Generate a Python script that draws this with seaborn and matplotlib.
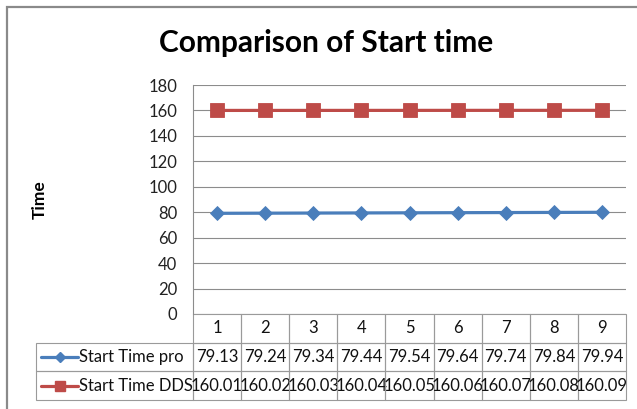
import matplotlib
matplotlib.use("Agg")
import matplotlib.pyplot as plt
import seaborn as sns
import pandas as pd
from matplotlib.table import Table
from matplotlib.lines import Line2D
from matplotlib.patches import Rectangle

# ---- data ----
categories = [1, 2, 3, 4, 5, 6, 7, 8, 9]
start_time_pro = [79.13, 79.24, 79.34, 79.44, 79.54, 79.64, 79.74, 79.84, 79.94]
start_time_dds = [160.01, 160.02, 160.03, 160.04, 160.05, 160.06, 160.07, 160.08, 160.09]
series_names = ["Start Time pro", "Start Time DDS"]
y_ticks = [0, 20, 40, 60, 80, 100, 120, 140, 160, 180]
title = "Comparison of Start time"
y_label = "Time"

sns.set_style("white")
plt.rcParams["font.family"] = ["Lato", "DejaVu Sans"]

W, H = 637, 409
fig = plt.figure(figsize=(W / 100, H / 100), dpi=100)

def fx(px):
    return px / W

def fy(py):
    return 1 - py / H

# plot area
L, R, T, B = 193, 626, 85, 314
ax = fig.add_axes([fx(L), fy(B), (R - L) / W, (B - T) / H])

df = pd.DataFrame({
    "x": categories * 2,
    "y": start_time_pro + start_time_dds,
    "series": [series_names[0]] * len(categories) + [series_names[1]] * len(categories),
})
blue = "#4A7EBB"
red = "#BE4B48"
palette = {series_names[0]: blue, series_names[1]: red}
markers = {series_names[0]: "D", series_names[1]: "s"}

sns.lineplot(data=df, x="x", y="y", hue="series", style="series",
             palette=palette, markers=markers, dashes=False,
             linewidth=2.3, markersize=8, markeredgewidth=0.6,
             legend=False, ax=ax, zorder=3)
for line in ax.get_lines():
    if line.get_marker() == "D":
        line.set_markersize(6.8)
    elif line.get_marker() == "s":
        line.set_markersize(9.4)
    line.set_markeredgecolor(line.get_color())
    line.set_clip_on(False)

ax.set_xlim(0.5, 9.5)
ax.set_ylim(0, 180)
ax.set_yticks(y_ticks)
ax.set_xticks([])
ax.set_xlabel("")
ax.set_ylabel("")
grid_c = "#8C8C8C"
ax.yaxis.grid(True, color=grid_c, linewidth=0.8)
ax.xaxis.grid(False)
for s in ["top", "right", "bottom"]:
    ax.spines[s].set_visible(False)
ax.spines["left"].set_color(grid_c)
ax.spines["left"].set_linewidth(0.8)
ax.tick_params(axis="y", length=0, pad=11.5, labelsize=12, labelcolor="#222222")
ax.set_axisbelow(True)

# ---- data table below plot ----
tbl_left, tbl_right, tbl_top, tbl_bot = 36, 626, 314, 400
ax_w, ax_h = R - L, B - T
bbox = [(tbl_left - L) / ax_w, -(tbl_bot - B) / ax_h,
        (tbl_right - tbl_left) / ax_w, (tbl_bot - tbl_top) / ax_h]
table = Table(ax, bbox=bbox)
label_w = L - tbl_left
col_w = (R - L) / len(categories)
row_h = (tbl_bot - tbl_top) / 3
edge_c = "#9A9A9A"
font_sz = 12

for j, c in enumerate(categories):
    table.add_cell(0, j + 1, width=col_w, height=row_h, text=str(c), loc="center")
for i, vals in enumerate([start_time_pro, start_time_dds]):
    table.add_cell(i + 1, 0, width=label_w, height=row_h, text="", loc="left")
    for j, v in enumerate(vals):
        table.add_cell(i + 1, j + 1, width=col_w, height=row_h, text=f"{v:.2f}", loc="center")
table.auto_set_font_size(False)
table.set_fontsize(font_sz)
for (r, c), cell in table.get_celld().items():
    cell.set_edgecolor(edge_c)
    cell.set_linewidth(0.8)
    cell.get_text().set_color("#111111")
    cell.set_facecolor("none")
ax.add_table(table)

# legend keys + row labels in the table
row_centers = [tbl_top + row_h * 1.5, tbl_top + row_h * 2.5]
for name, color, mk, ms, yc in zip(series_names, [blue, red], ["D", "s"],
                                     [5.0, 7.0], row_centers):
    fig.add_artist(Line2D([fx(41), fx(78)], [fy(yc), fy(yc)], color=color,
                          linewidth=2.3, transform=fig.transFigure))
    fig.add_artist(Line2D([fx(59.5)], [fy(yc)], color=color, marker=mk,
                          markersize=ms, markeredgecolor=color,
                          transform=fig.transFigure))
    fig.text(fx(79), fy(yc), name, fontsize=font_sz, color="#111111",
             ha="left", va="center")

# titles
fig.text(fx(326), fy(43), title, fontsize=21.5, fontweight="bold",
         ha="center", va="center", color="#000000")
fig.text(fx(40), fy(200), y_label, fontsize=12.5, fontweight="bold",
         rotation=90, ha="center", va="center", color="#000000")

# outer chart border
fig.add_artist(Rectangle((fx(7), fy(415)), fx(640) - fx(7), fy(7) - fy(415),
                         transform=fig.transFigure, fill=False,
                         edgecolor="#8A8A8A", linewidth=1.6, clip_on=False))

fig.savefig("out.png", dpi=100)
